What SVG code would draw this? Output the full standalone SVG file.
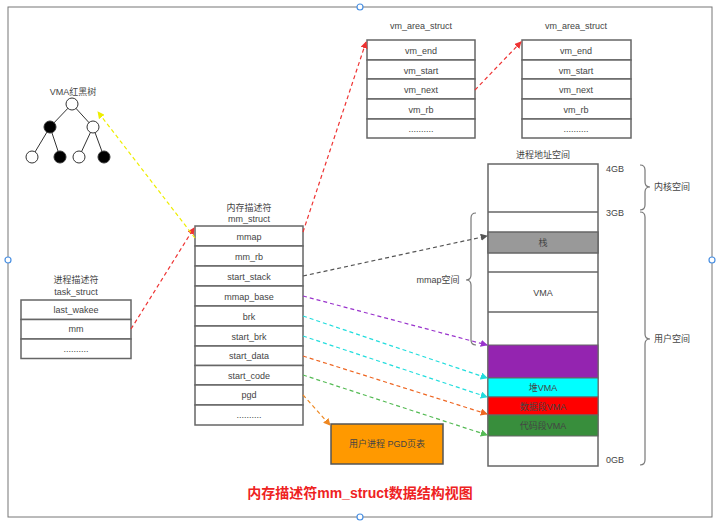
<svg xmlns="http://www.w3.org/2000/svg" width="720" height="524" viewBox="0 0 720 524">
<style>
text{font-family:"Liberation Sans","Noto Sans CJK SC",sans-serif;font-size:9px;fill:#444;text-anchor:middle}
.b{fill:#fff;stroke:#666;stroke-width:1.5}
.c{fill:none;stroke-width:1.2;stroke-dasharray:4 3}
.br{fill:none;stroke:#777;stroke-width:1.2}
.h{fill:#fff;stroke:#4a90e2;stroke-width:1.2}
</style>
<defs>
<marker id="m" viewBox="0 0 8 8" refX="7" refY="4" markerWidth="6" markerHeight="6" orient="auto"><path d="M0,0L8,4L0,8z" fill="context-stroke"/></marker>
</defs>
<rect width="720" height="524" fill="#fff"/>
<rect x="8" y="7" width="704" height="510" fill="none" stroke="#777"/>
<circle class="h" cx="8" cy="260" r="3"/><circle class="h" cx="712" cy="260" r="3"/><circle class="h" cx="360" cy="7" r="3"/><circle class="h" cx="360" cy="517" r="3"/>
<g id="tree">
<text x="73" y="95">VMA红黑树</text>
<g stroke="#333" stroke-width="1">
<line x1="72" y1="104" x2="50" y2="127"/><line x1="72" y1="104" x2="93" y2="127"/>
<line x1="50" y1="127" x2="32" y2="157"/><line x1="50" y1="127" x2="60" y2="157"/>
<line x1="93" y1="127" x2="79" y2="157"/><line x1="93" y1="127" x2="104" y2="157"/>
<circle cx="72" cy="104" r="6" fill="#fff"/><circle cx="50" cy="127" r="6" fill="#000"/><circle cx="93" cy="127" r="6" fill="#fff"/>
<circle cx="32" cy="157" r="6" fill="#fff"/><circle cx="60" cy="157" r="6" fill="#000"/><circle cx="79" cy="157" r="6" fill="#fff"/><circle cx="104" cy="157" r="6" fill="#000"/>
</g>
</g>
<g id="task_struct">
<text x="76" y="283">进程描述符</text><text x="76" y="295">task_struct</text>
<rect class="b" x="21" y="300" width="110" height="19.5"/><rect class="b" x="21" y="319.5" width="110" height="19.5"/><rect class="b" x="21" y="339" width="110" height="19.5"/>
<text x="76" y="313">last_wakee</text><text x="76" y="332">mm</text><text x="76" y="352">..........</text>
</g>
<g id="mm_struct">
<text x="249" y="211">内存描述符</text><text x="249" y="222">mm_struct</text>
<rect class="b" x="195" y="226" width="108" height="20"/><rect class="b" x="195" y="246" width="108" height="20"/><rect class="b" x="195" y="266" width="108" height="20"/><rect class="b" x="195" y="286" width="108" height="20"/><rect class="b" x="195" y="306" width="108" height="20"/><rect class="b" x="195" y="326" width="108" height="20"/><rect class="b" x="195" y="346" width="108" height="19.5"/><rect class="b" x="195" y="365.5" width="108" height="19.5"/><rect class="b" x="195" y="385" width="108" height="20"/><rect class="b" x="195" y="405" width="108" height="20"/>
<text x="249" y="240">mmap</text><text x="249" y="260">mm_rb</text><text x="249" y="280">start_stack</text><text x="249" y="300">mmap_base</text><text x="249" y="320">brk</text><text x="249" y="340">start_brk</text><text x="249" y="359">start_data</text><text x="249" y="379">start_code</text><text x="249" y="398">pgd</text><text x="249" y="418">..........</text>
</g>
<g id="vma1">
<text x="421" y="29">vm_area_struct</text>
<rect class="b" x="367" y="40" width="108" height="20"/><rect class="b" x="367" y="60" width="108" height="19"/><rect class="b" x="367" y="79" width="108" height="20"/><rect class="b" x="367" y="99" width="108" height="20"/><rect class="b" x="367" y="119" width="108" height="19"/>
<text x="421" y="54">vm_end</text><text x="421" y="74">vm_start</text><text x="421" y="93">vm_next</text><text x="421" y="113">vm_rb</text><text x="421" y="132">..........</text>
</g>
<g id="vma2">
<text x="576" y="29">vm_area_struct</text>
<rect class="b" x="522" y="40" width="109" height="20"/><rect class="b" x="522" y="60" width="109" height="19"/><rect class="b" x="522" y="79" width="109" height="20"/><rect class="b" x="522" y="99" width="109" height="20"/><rect class="b" x="522" y="119" width="109" height="19"/>
<text x="576" y="54">vm_end</text><text x="576" y="74">vm_start</text><text x="576" y="93">vm_next</text><text x="576" y="113">vm_rb</text><text x="576" y="132">..........</text>
</g>
<g id="addr_space">
<text x="543" y="158">进程地址空间</text>
<rect class="b" x="488" y="164" width="110" height="302"/>
<line x1="488" y1="212" x2="598" y2="212" stroke="#666" stroke-width="1.5"/>
<rect x="488" y="232" width="110" height="21" fill="#999" stroke="#666" stroke-width="1.5"/>
<text x="543" y="246">栈</text>
<line x1="488" y1="272" x2="598" y2="272" stroke="#666" stroke-width="1.5"/>
<line x1="488" y1="312" x2="598" y2="312" stroke="#666" stroke-width="1.5"/>
<text x="543" y="296">VMA</text>
<rect x="488" y="345" width="110" height="33" fill="#9424b0" stroke="#666"/>
<rect x="488" y="378" width="110" height="19" fill="#00ffff" stroke="#666"/>
<rect x="488" y="397" width="110" height="18" fill="#ff0000" stroke="#666"/>
<rect x="488" y="415" width="110" height="21" fill="#388e3c" stroke="#666"/>
<text x="543" y="391">堆VMA</text><text x="543" y="410">数据段VMA</text><text x="543" y="429">代码段VMA</text>
<text x="615" y="172">4GB</text><text x="615" y="216">3GB</text><text x="615" y="463">0GB</text>
<path class="br" d="M640,165 Q645,165 645,170 L645,182 Q645,187 650,187 Q645,187 645,192 L645,205 Q645,210 640,210"/>
<text x="672" y="190">内核空间</text>
<path class="br" d="M640,212 Q645,212 645,217 L645,334 Q645,339 650,339 Q645,339 645,344 L645,460 Q645,465 640,465"/>
<text x="672" y="342">用户空间</text>
<path class="br" d="M476,213 Q471,213 471,218 L471,275 Q471,280 466,280 Q471,280 471,285 L471,340 Q471,345 476,345"/>
<text x="438" y="283">mmap空间</text>
</g>
<g id="pgd_table">
<rect x="331" y="424" width="112" height="40" fill="#ff9900" stroke="#555" stroke-width="1.5"/>
<text x="387" y="447" fill="#333">用户进程 PGD页表</text>
</g>
<g id="connectors">
<line class="c" stroke="#ee3333" x1="131" y1="329" x2="194" y2="228" marker-end="url(#m)"/>
<line class="c" stroke="#eeee00" x1="195" y1="238" x2="98" y2="112" marker-end="url(#m)"/>
<line class="c" stroke="#ee3333" x1="303" y1="232" x2="366" y2="42" marker-end="url(#m)"/>
<line class="c" stroke="#ee3333" x1="475" y1="90" x2="521" y2="42" marker-end="url(#m)"/>
<line class="c" stroke="#555" x1="303" y1="276" x2="487" y2="236" marker-end="url(#m)"/>
<line class="c" stroke="#9933cc" x1="303" y1="296" x2="487" y2="345" marker-end="url(#m)"/>
<line class="c" stroke="#22dddd" x1="303" y1="316" x2="487" y2="378" marker-end="url(#m)"/>
<line class="c" stroke="#22dddd" x1="303" y1="336" x2="487" y2="397" marker-end="url(#m)"/>
<line class="c" stroke="#ee6622" x1="303" y1="356" x2="487" y2="414" marker-end="url(#m)"/>
<line class="c" stroke="#55bb55" x1="303" y1="375" x2="487" y2="435" marker-end="url(#m)"/>
<line class="c" stroke="#ee8822" x1="303" y1="395" x2="330" y2="425" marker-end="url(#m)"/>
</g>
<text x="360" y="498" style="font-size:14px;font-weight:bold;fill:#ee2222">内存描述符mm_struct数据结构视图</text>
</svg>
